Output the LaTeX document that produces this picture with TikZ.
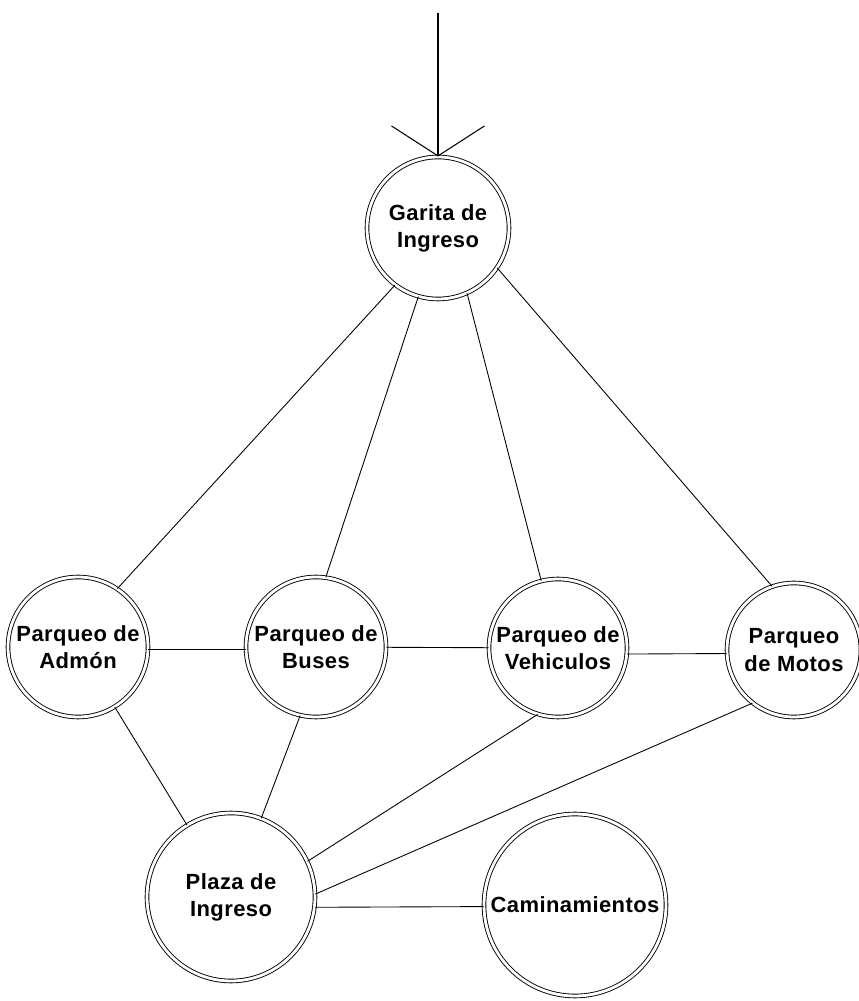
\documentclass[tikz,border=0pt]{standalone}
\usepackage{fontspec}
\setmainfont{Liberation Sans}[LetterSpace=2]
\usepackage{tikz}
\usetikzlibrary{positioning,arrows.meta}
\newcommand{\lbl}{\bfseries\fontsize{12.5}{15.5}\selectfont}

\begin{document}
\begin{tikzpicture}[
  zona/.style={circle, draw, double, double distance=1.6pt, line width=0.5pt, inner sep=0pt, align=center, font=\lbl},
  enlace/.style={line width=0.5pt},
  ingreso/.style={line width=0.6pt, -{Straight Barb[length=0.6cm, width=1.86cm, line width=0.6pt]}}]
\useasboundingbox (0,0) rectangle (17.18,20.02);
\coordinate (entrada) at (8.76,19.76);
\node[zona, minimum size=2.84cm] (garita) at (8.76,15.46) {Garita de\\Ingreso};
\node[zona, minimum size=2.8cm] (admon) at (1.56,7.08) {Parqueo de\\Admón};
\node[zona, minimum size=2.8cm] (buses) at (6.32,7.08) {Parqueo de\\Buses};
\node[zona, minimum size=2.76cm] (vehiculos) at (11.16,7.06) {Parqueo de\\Vehiculos};
\node[zona, minimum size=2.68cm] (motos) at (15.88,7.02) {Parqueo\\de Motos};
\node[zona, minimum size=3.36cm] (plaza) at (4.62,2.08) {Plaza de\\Ingreso};
\node[zona, minimum size=3.64cm] (camina) at (11.5,1.92) {Caminamientos};
\draw[ingreso] (entrada) -- (garita.north);
\draw[enlace] (garita.233) -- (admon.56);
\draw[enlace] (garita.254) -- (buses.82);
\draw[enlace] (garita.294) -- (vehiculos.104);
\draw[enlace] (garita.326) -- (motos.109);
\draw[enlace] (admon.-2) -- (buses.182);
\draw[enlace] (buses) -- (vehiculos);
\draw[enlace] (vehiculos.-5) -- (motos.183);
\draw[enlace] (admon) -- (plaza);
\draw[enlace] (buses.257) -- (plaza.69);
\draw[enlace] (vehiculos.253) -- (plaza.25);
\draw[enlace] (motos.232) -- (plaza.2);
\draw[enlace] (plaza.-7) -- (camina.181);
\end{tikzpicture}
\end{document}
